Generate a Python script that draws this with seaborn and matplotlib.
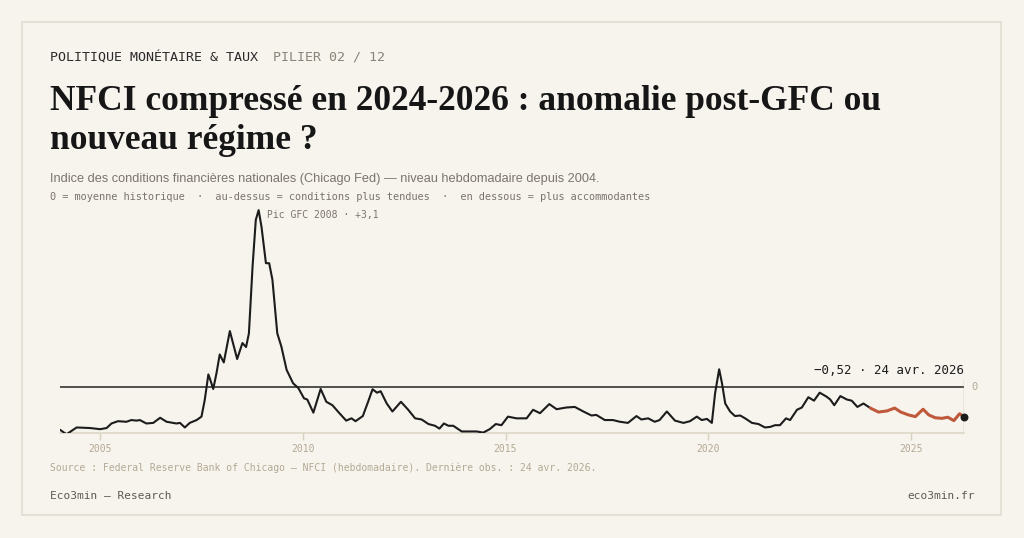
import numpy as np
import pandas as pd
import seaborn as sns
import matplotlib
matplotlib.use('Agg')
from matplotlib import pyplot as plt
from matplotlib.patches import Rectangle

BG = '#f7f4ee'
INK = '#1c1c1c'
GREY = '#7a746b'
BEIGE = '#b3a994'
RED = '#c0593b'
MONO = 'DejaVu Sans Mono'

# NFCI weekly level (decimal year, value)
years = [2004.01, 2004.17, 2004.42, 2004.75, 2005.00, 2005.16, 2005.28, 2005.44, 2005.65, 2005.77,
         2005.90, 2005.98, 2006.14, 2006.31, 2006.48, 2006.64, 2006.88, 2006.97, 2007.09, 2007.21,
         2007.38, 2007.50, 2007.58, 2007.67, 2007.72, 2007.79, 2007.87, 2007.95, 2008.05, 2008.20,
         2008.30, 2008.38, 2008.51, 2008.60, 2008.67, 2008.76, 2008.84, 2008.91, 2008.98, 2009.09,
         2009.17, 2009.25, 2009.37, 2009.47, 2009.60, 2009.76, 2009.89, 2010.03, 2010.11, 2010.26,
         2010.44, 2010.58, 2010.73, 2010.89, 2011.07, 2011.20, 2011.30, 2011.48, 2011.61, 2011.72,
         2011.83, 2011.92, 2012.07, 2012.21, 2012.42, 2012.60, 2012.77, 2012.93, 2013.10, 2013.26,
         2013.37, 2013.48, 2013.59, 2013.71, 2013.92, 2014.13, 2014.29, 2014.45, 2014.61, 2014.76,
         2014.90, 2015.06, 2015.27, 2015.52, 2015.68, 2015.85, 2016.08, 2016.26, 2016.50, 2016.71,
         2016.92, 2017.12, 2017.24, 2017.45, 2017.65, 2017.82, 2018.02, 2018.23, 2018.35, 2018.52,
         2018.68, 2018.80, 2018.98, 2019.18, 2019.39, 2019.55, 2019.72, 2019.84, 2019.97, 2020.09,
         2020.17, 2020.27, 2020.34, 2020.42, 2020.54, 2020.66, 2020.79, 2020.91, 2021.08, 2021.24,
         2021.40, 2021.53, 2021.65, 2021.77, 2021.92, 2022.02, 2022.19, 2022.31, 2022.47, 2022.61,
         2022.75, 2022.92, 2023.01, 2023.11, 2023.26, 2023.42, 2023.54, 2023.68, 2023.83, 2024.00,
         2024.20, 2024.41, 2024.60, 2024.75, 2024.94, 2025.11, 2025.30, 2025.44, 2025.60, 2025.77,
         2025.91, 2026.06, 2026.20, 2026.31]
nfci = [-0.75, -0.83, -0.71, -0.72, -0.74, -0.72, -0.64, -0.60, -0.61, -0.58,
        -0.59, -0.58, -0.64, -0.63, -0.54, -0.61, -0.64, -0.63, -0.71, -0.63,
        -0.58, -0.52, -0.23, 0.22, 0.12, -0.035, 0.24, 0.57, 0.43, 0.98,
        0.71, 0.49, 0.77, 0.70, 0.94, 2.11, 2.93, 3.10, 2.81, 2.17,
        2.17, 1.88, 0.94, 0.71, 0.30, 0.065, -0.02, -0.20, -0.22, -0.45,
        -0.035, -0.26, -0.32, -0.45, -0.59, -0.55, -0.60, -0.51, -0.26, -0.04,
        -0.10, -0.075, -0.29, -0.43, -0.26, -0.40, -0.55, -0.57, -0.65, -0.68,
        -0.73, -0.64, -0.68, -0.68, -0.78, -0.78, -0.78, -0.80, -0.74, -0.65,
        -0.67, -0.52, -0.55, -0.55, -0.40, -0.46, -0.30, -0.39, -0.36, -0.35,
        -0.43, -0.50, -0.49, -0.58, -0.58, -0.61, -0.63, -0.51, -0.57, -0.55,
        -0.61, -0.58, -0.43, -0.59, -0.63, -0.60, -0.52, -0.58, -0.56, -0.63,
        -0.11, 0.31, 0.065, -0.29, -0.43, -0.51, -0.50, -0.55, -0.63, -0.65,
        -0.71, -0.70, -0.67, -0.67, -0.55, -0.58, -0.40, -0.36, -0.18, -0.24,
        -0.10, -0.17, -0.22, -0.32, -0.16, -0.22, -0.24, -0.35, -0.29, -0.37,
        -0.44, -0.42, -0.37, -0.44, -0.49, -0.52, -0.39, -0.49, -0.54, -0.55,
        -0.53, -0.59, -0.47, -0.52]
tick_years = [2005, 2010, 2015, 2020, 2025]
recent_start = 2024.0


def px(x, y):
    return x / 1024, 1 - y / 538


sns.set_theme(style='white')
plt.rcParams['font.family'] = ['DejaVu Sans']

df = pd.DataFrame({'year': years, 'nfci': nfci})
old = df[df.year <= recent_start]
new = df[df.year >= recent_start]

fig = plt.figure(figsize=(10.24, 5.38), dpi=100, facecolor=BG)
fig.patches.append(Rectangle(px(22, 515), 979 / 1024, 493 / 538, transform=fig.transFigure,
                             fill=False, edgecolor='#e2ddd1', lw=1.2))

ax = fig.add_axes([60 / 1024, (538 - 433) / 538, 904 / 1024, 228 / 538])
ax.set_facecolor(BG)
ax.axhline(0, color='#333333', lw=1.2, zorder=1)
sns.lineplot(data=old, x='year', y='nfci', ax=ax, color=INK, lw=1.5, zorder=3)
sns.lineplot(data=new, x='year', y='nfci', ax=ax, color=RED, lw=2.2, zorder=3)
last = df.iloc[-1]
ax.scatter([last.year], [last.nfci], color=INK, s=22, zorder=4, clip_on=False)

ymin, ymax = -0.807, 3.19
ax.set_xlim(years[0], years[-1])
ax.set_ylim(ymin, ymax)
ax.vlines(last.year, ymin, 0.12, color='#b8b0a0', lw=1)

for s in ['top', 'right', 'left']:
    ax.spines[s].set_visible(False)
ax.spines['bottom'].set_color('#ddd6c8')
ax.spines['bottom'].set_linewidth(1.2)
ax.set_xticks(tick_years)
ax.set_xticklabels([str(t) for t in tick_years], fontfamily=MONO, fontsize=7, color=BEIGE)
ax.tick_params(axis='x', length=5, width=1, color='#d8d0c0', pad=3, bottom=True)
ax.set_yticks([])
ax.set_xlabel('')
ax.set_ylabel('')

peak = df.loc[df.nfci.idxmax()]
ax.annotate('Pic GFC 2008 · +3,1', xy=(peak.year, peak.nfci), xytext=(8, -5),
            textcoords='offset pixels', fontfamily=MONO, fontsize=7, color=GREY, va='center')
ax.annotate('−0,52 · 24 avr. 2026', xy=(last.year, 0), xytext=(0, 16),
            textcoords='offset pixels', fontfamily=MONO, fontsize=9, color=INK,
            ha='right', va='center', annotation_clip=False)
ax.annotate('0', xy=(last.year, 0), xytext=(7, 0), textcoords='offset pixels',
            fontfamily=MONO, fontsize=7.5, color=BEIGE, va='center', annotation_clip=False)

# header and text blocks
fig.text(*px(50, 57), 'POLITIQUE MONÉTAIRE & TAUX', fontfamily=MONO, fontsize=9.6,
         color='#2b2b2b', va='center')
fig.text(*px(273, 57), 'PILIER 02 / 12', fontfamily=MONO, fontsize=9.6, color='#8a8378', va='center')
title_kw = dict(fontfamily='Liberation Serif', fontweight='bold', fontsize=25.5, color='#161616',
                va='baseline')
fig.text(*px(50, 109.5), 'NFCI compressé en 2024-2026 : anomalie post-GFC ou', **title_kw)
fig.text(*px(50, 149.5), 'nouveau régime ?', **title_kw)
fig.text(*px(50, 179), 'Indice des conditions financières nationales (Chicago Fed) — niveau hebdomadaire depuis 2004.',
         fontfamily='Liberation Sans', fontsize=9.2, color=GREY, va='center')
fig.text(*px(50, 197), '0 = moyenne historique  ·  au-dessus = conditions plus tendues  ·  en dessous = plus accommodantes',
         fontfamily=MONO, fontsize=7.4, color=GREY, va='center')
fig.text(*px(50, 468), 'Source : Federal Reserve Bank of Chicago — NFCI (hebdomadaire). Dernière obs. : 24 avr. 2026.',
         fontfamily=MONO, fontsize=7, color=BEIGE, va='center')
fig.text(*px(50, 496), 'Eco3min — Research', fontfamily=MONO, fontsize=8, color='#5e5950', va='center')
fig.text(*px(975, 496), 'eco3min.fr', fontfamily=MONO, fontsize=8, color='#5e5950', va='center', ha='right')

fig.savefig('out.png', dpi=100, facecolor=BG)
